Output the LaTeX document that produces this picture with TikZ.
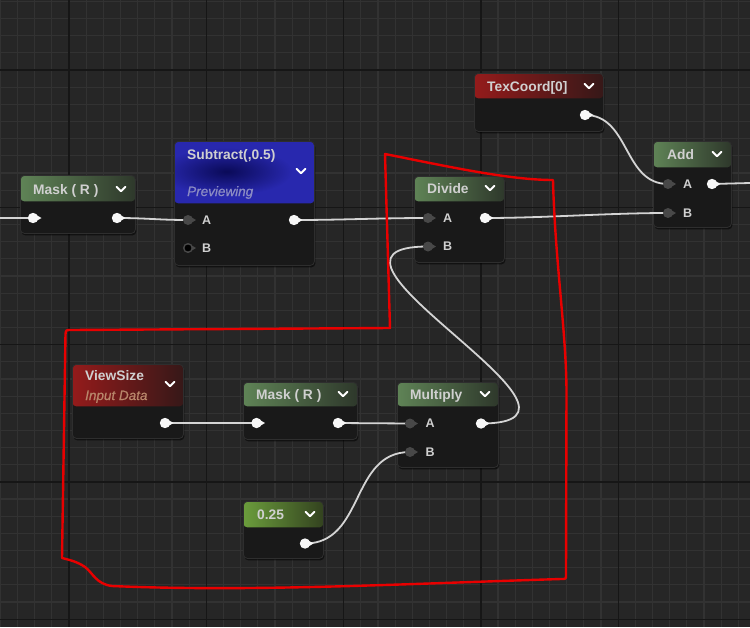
\documentclass[tikz,border=0pt]{standalone}
\usepackage{fontspec}
\setmainfont{Liberation Sans}
\newfontfamily\uefont{Liberation Sans Bold}
\newfontfamily\uefontit{Liberation Sans Italic}[FakeBold=0.6]
\usetikzlibrary{shadows}
\definecolor{bg}{HTML}{262626}
\definecolor{minorc}{HTML}{323232}
\definecolor{majorc}{HTML}{161616}
\definecolor{bodyc}{HTML}{191919}
\definecolor{edgec}{HTML}{2E2E2E}
\definecolor{wirec}{HTML}{D4D4D4}
\definecolor{pinw}{HTML}{F7F7F7}
\definecolor{pind}{HTML}{484848}
\definecolor{titlec}{HTML}{D0D0D0}
\definecolor{grL}{HTML}{5F8356}
\definecolor{grR}{HTML}{2E382B}
\definecolor{lgL}{HTML}{6B9D3C}
\definecolor{lgR}{HTML}{33421F}
\definecolor{rdL}{HTML}{941B1B}
\definecolor{rdR}{HTML}{361818}
\definecolor{blL}{HTML}{2828AE}
\definecolor{blM}{HTML}{0A0A58}
\definecolor{prevc}{HTML}{8C8CC4}
\definecolor{inpc}{HTML}{B8866A}
\definecolor{annot}{HTML}{E80000}
\tikzset{
  minorgrid/.style={draw=minorc, line width=1.2pt},
  majorgrid/.style={draw=majorc, line width=1.3pt},
  uebody/.style={draw=edgec, line width=0.8pt, fill=bodyc, rounded corners=4pt,
    inner sep=0pt, anchor=north west,
    drop shadow={shadow xshift=1pt, shadow yshift=-2pt, opacity=0.55, fill=black}},
  hdr/.style n args={3}{path picture={\shade[left color=#2, right color=#3]
    (path picture bounding box.north west) rectangle ([yshift=-#1]path picture bounding box.north east);}},
  hdrblue/.style={path picture={\fill[blL]
    (path picture bounding box.north west) rectangle ([yshift=-#1]path picture bounding box.north east);
    \shade[inner color=blM, outer color=blL] ([xshift=-18pt,yshift=-30pt]path picture bounding box.north) ellipse (66pt and 24pt);}},
  ttl/.style={text=titlec, font=\uefont\fontsize{13.8}{16}\selectfont, inner sep=0pt, anchor=base west},
  sub/.style={font=\uefontit\fontsize{13.5}{15}\selectfont, inner sep=0pt, anchor=base west},
  pinlbl/.style={text=titlec, font=\uefont\fontsize{12.5}{15}\selectfont, inner sep=0pt, anchor=base west},
  wire/.style={draw=wirec, line width=1.8pt},
  chev/.style={draw=white, line width=1.9pt, line cap=round, line join=round},
  redline/.style={draw=annot, line width=2.4pt, line join=round, line cap=round},
}
\newcommand\chevat[2]{\draw[chev] (#1-4.5,#2-2.3) -- (#1,#2+2.2) -- (#1+4.5,#2-2.3);}
\newcommand\outpin[1]{\fill[pinw] (#1) circle (5.2pt);
  \fill[pinw] ([xshift=3pt,yshift=3.2pt]#1) -- ([xshift=8.5pt]#1) -- ([xshift=3pt,yshift=-3.2pt]#1) -- cycle;}
\newcommand\inpin[1]{\fill[pind] (#1) circle (5pt);
  \fill[pind] ([xshift=3pt,yshift=3pt]#1) -- ([xshift=8pt]#1) -- ([xshift=3pt,yshift=-3pt]#1) -- cycle;}
\newcommand\freepin[1]{\fill[pind] ([xshift=3pt,yshift=3pt]#1) -- ([xshift=8pt]#1) -- ([xshift=3pt,yshift=-3pt]#1) -- cycle;
  \filldraw[fill=black, draw=pind, line width=1.4pt] (#1) circle (4.3pt);}
\begin{document}
\begin{tikzpicture}[x=1pt,y=-1pt]
\useasboundingbox (0,0) rectangle (750,627);
\fill[bg] (0,0) rectangle (750,627);
% grid
\foreach \i in {0,...,43} \draw[minorgrid] ({0.36+\i*17.1625},0) -- ({0.36+\i*17.1625},627);
\foreach \i in {0,...,36} \draw[minorgrid] (0,{1.36+\i*17.1625}) -- (750,{1.36+\i*17.1625});
\foreach \x in {69,206.3,343.6,480.9,618.2} \draw[majorgrid] (\x,0) -- (\x,627);
\foreach \y in {70,207.3,344.6,481.9,619.2} \draw[majorgrid] (0,\y) -- (750,\y);

% node bodies
\node[uebody, hdr={26pt}{grL}{grR}, minimum width=115pt, minimum height=58pt] (mask1) at (20,175) {};
\node[uebody, hdrblue=62pt, minimum width=140pt, minimum height=124pt] (subn) at (174,141) {};
\node[uebody, hdr={25pt}{rdL}{rdR}, minimum width=129pt, minimum height=58pt] (tex) at (474,73) {};
\node[uebody, hdr={26pt}{grL}{grR}, minimum width=78pt, minimum height=86pt] (addn) at (653,141) {};
\node[uebody, hdr={25pt}{grL}{grR}, minimum width=90pt, minimum height=86pt] (divn) at (414,176) {};
\node[uebody, hdr={42pt}{rdL}{rdR}, minimum width=111pt, minimum height=74pt] (view) at (72,364) {};
\node[uebody, hdr={24pt}{grL}{grR}, minimum width=114pt, minimum height=57pt] (mask2) at (243,382) {};
\node[uebody, hdr={24pt}{grL}{grR}, minimum width=101pt, minimum height=85pt] (mul) at (397,382) {};
\node[uebody, hdr={26pt}{lgL}{lgR}, minimum width=80pt, minimum height=57pt] (cst) at (243,501) {};

% titles
\node[ttl] (mask1t) at (33,194) {Mask ( R )};
\node[ttl] (subt) at (187,159) {Subtract(,0.5)};
\node[sub, text=prevc] (subp) at (187,196) {Previewing};
\node[ttl] (text) at (487,91) {TexCoord[0]};
\node[ttl] (addt) at (667,159) {Add};
\node[ttl] (divt) at (427,193) {Divide};
\node[ttl] (viewt) at (85,380.5) {ViewSize};
\node[sub, text=inpc] (viewi) at (85,400) {Input Data};
\node[ttl] (mask2t) at (256,399) {Mask ( R )};
\node[ttl] (mult) at (410,399) {Multiply};
\node[ttl] (cstt) at (257,519) {0.25};

% chevrons
\chevat{121}{189}
\chevat{301}{171}
\chevat{589}{86}
\chevat{717}{154}
\chevat{490}{188}
\chevat{170}{384}
\chevat{343}{394}
\chevat{485}{394}
\chevat{310}{514}

% pin labels
\node[pinlbl] (subAl) at (202,224.6) {A};
\node[pinlbl] (subBl) at (202,252.6) {B};
\node[pinlbl] (addAl) at (683,188.6) {A};
\node[pinlbl] (addBl) at (683,217.6) {B};
\node[pinlbl] (divAl) at (443,222.6) {A};
\node[pinlbl] (divBl) at (443,250.6) {B};
\node[pinlbl] (mulAl) at (425.5,427.6) {A};
\node[pinlbl] (mulBl) at (425.5,456.6) {B};

% pin coordinates
\coordinate (leftin) at (0,218);
\coordinate (rightout) at (750,183);
\coordinate (m1i) at (33,218);
\coordinate (m1o) at (117,218);
\coordinate (sA) at (188,220);
\coordinate (sB) at (188,248);
\coordinate (so) at (294,220);
\coordinate (to) at (585,115);
\coordinate (aA) at (668,184);
\coordinate (aB) at (668,213);
\coordinate (ao) at (712,184);
\coordinate (dA) at (428,218);
\coordinate (dB) at (428,246.5);
\coordinate (do) at (485,218);
\coordinate (vo) at (165,423);
\coordinate (m2i) at (256.5,423);
\coordinate (m2o) at (338,423);
\coordinate (mA) at (410,423.5);
\coordinate (mB) at (410,452);
\coordinate (mo) at (481,423.5);
\coordinate (co) at (305,543.5);

% wires
\draw[wire] (leftin) -- (m1i);
\draw[wire] (m1o) .. controls +(30,0) and +(-30,0) .. (sA);
\draw[wire] (so) .. controls +(50,0) and +(-50,0) .. (dA);
\draw[wire] (do) .. controls +(60,0) and +(-60,0) .. (aB);
\draw[wire] (to) .. controls +(45,0) and +(-45,0) .. (aA);
\draw[wire] (ao) -- (rightout);
\draw[wire] (vo) -- (m2i);
\draw[wire] (m2o) -- (mA);
\draw[wire] (mo) .. controls +(150,0) and +(-150,0) .. (dB);
\draw[wire] (co) .. controls +(60,0) and +(-60,0) .. (mB);

% pins
\outpin{m1i}\outpin{m1o}
\inpin{sA}\freepin{sB}\outpin{so}
\outpin{to}
\inpin{aA}\inpin{aB}\outpin{ao}
\inpin{dA}\inpin{dB}\outpin{do}
\outpin{vo}
\outpin{m2i}\outpin{m2o}
\inpin{mA}\inpin{mB}\outpin{mo}
\outpin{co}

% red annotation outline
\draw[redline] (390,328) -- (385,154) .. controls (450,167) and (510,180) .. (553,180)
  .. controls (555,260) and (566,330) .. (566.5,390) -- (566,575)
  .. controls (566,579) .. (561,579) .. controls (400,584) and (250,592) .. (112,586)
  .. controls (96,584) and (93,573) .. (85,567) .. controls (78,562) and (70,560) .. (62,558)
  -- (65.5,334) .. controls (66,330) .. (71,330) -- cycle;
\end{tikzpicture}
\end{document}
